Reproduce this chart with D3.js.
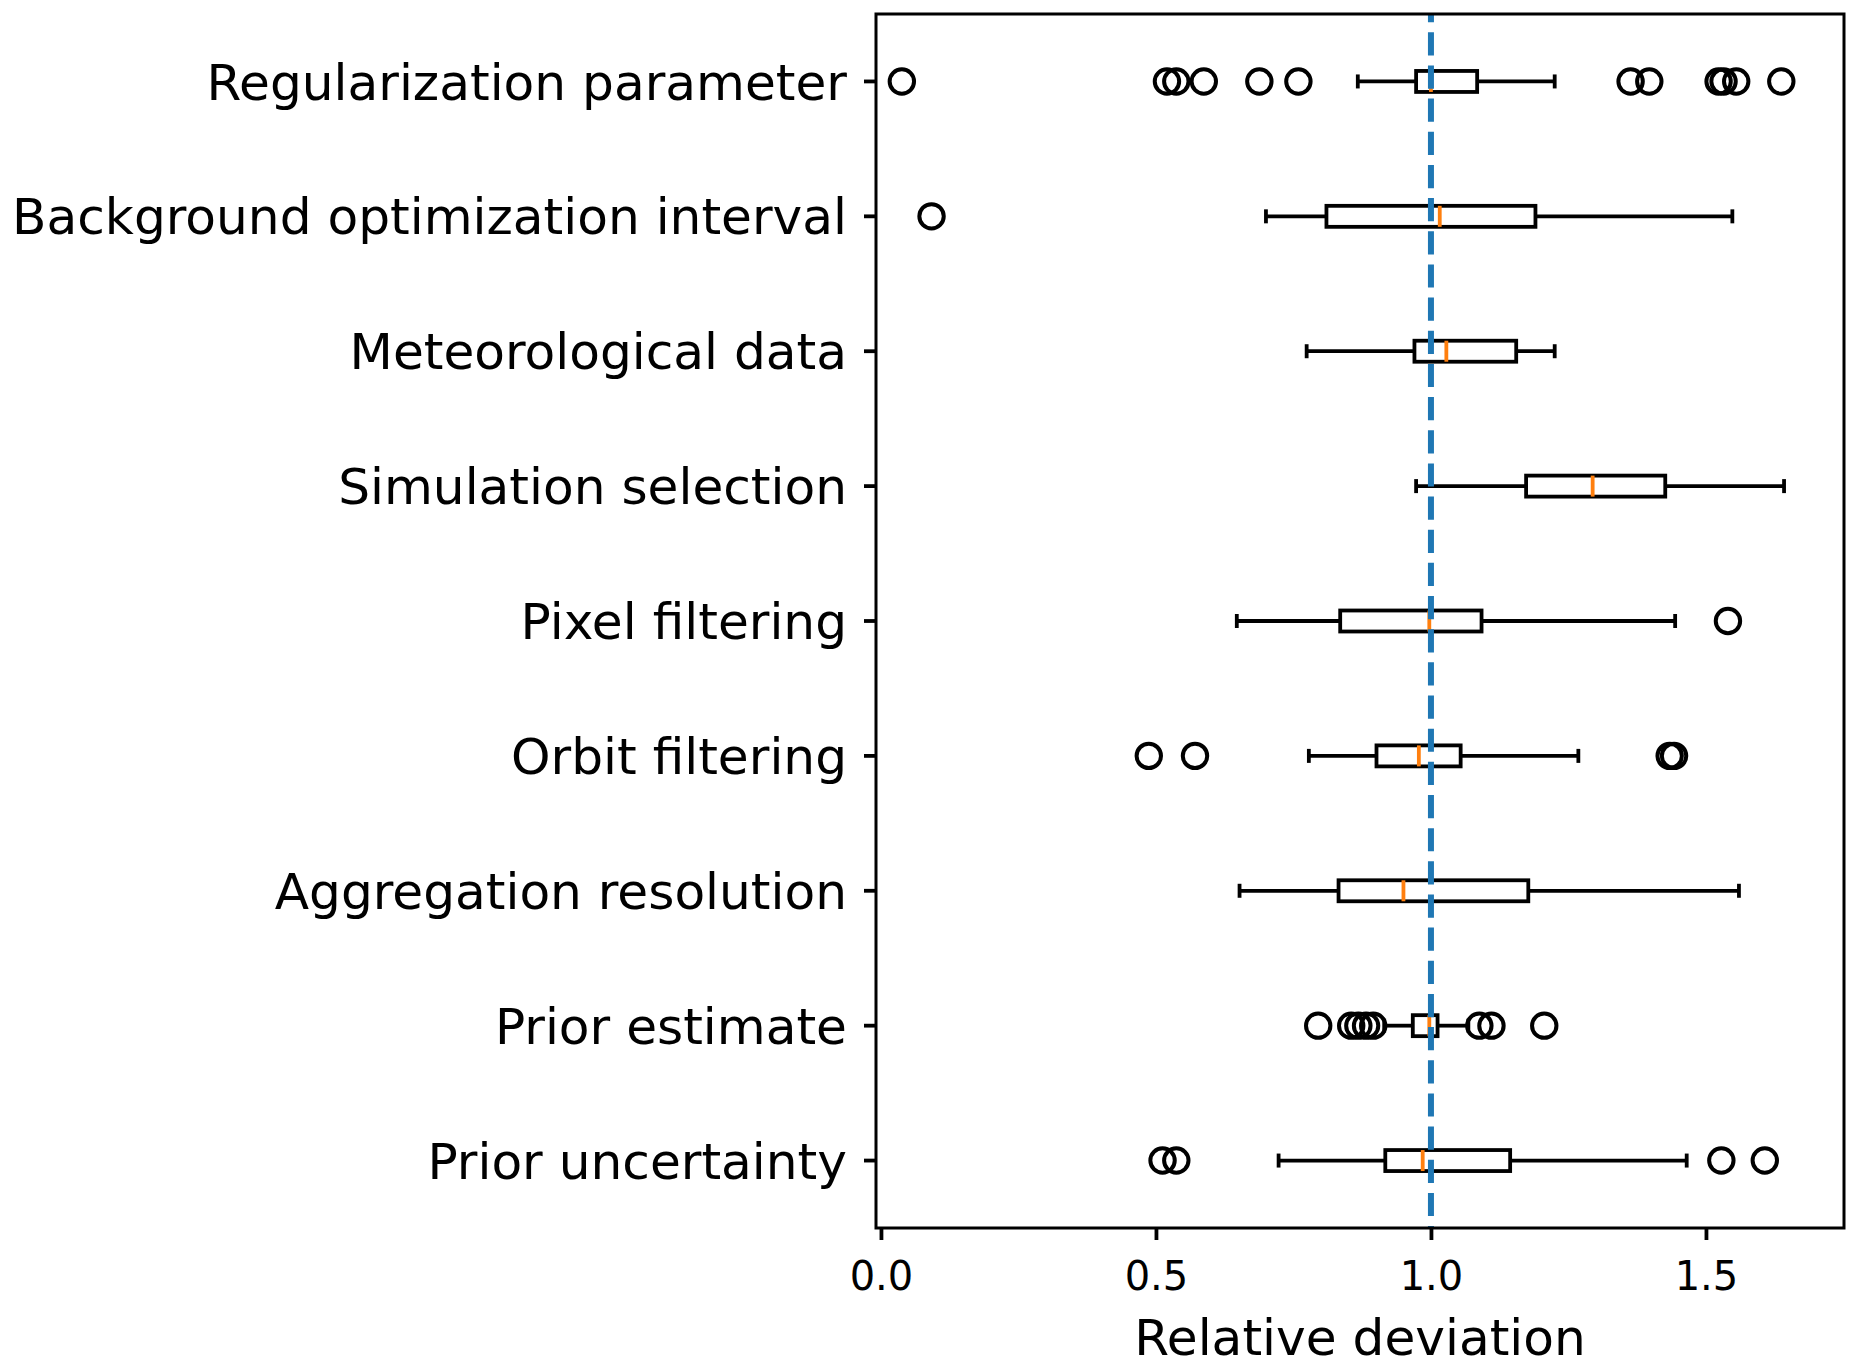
<!DOCTYPE html>
<html>
<head>
<meta charset="utf-8">
<script src="https://cdn.jsdelivr.net/npm/d3@7"></script>
<style>
  body { margin: 0; background: #fff; }
  text { font-family: "DejaVu Sans", sans-serif; }
</style>
</head>
<body>
<div id="chart"></div>
<script>
// Horizontal box plots of relative deviation per sensitivity test

const cats = ['Regularization parameter', 'Background optimization interval',
              'Meteorological data', 'Simulation selection', 'Pixel filtering',
              'Orbit filtering', 'Aggregation resolution', 'Prior estimate',
              'Prior uncertainty']

// box stats, one entry per category (same order)
const whiskLo = [0.867, 0.700, 0.774, 0.973, 0.647, 0.778, 0.652, 0.915, 0.723]
const q1      = [0.973, 0.810, 0.970, 1.173, 0.835, 0.901, 0.832, 0.967, 0.917]
const med     = [1.000, 1.016, 1.028, 1.294, 0.997, 0.978, 0.950, 0.997, 0.985]
const q3      = [1.084, 1.190, 1.155, 1.426, 1.092, 1.054, 1.177, 1.012, 1.144]
const whiskHi = [1.225, 1.548, 1.225, 1.642, 1.444, 1.268, 1.560, 1.068, 1.465]
const fliers  = [
  [0.038, 0.520, 0.537, 0.587, 0.688, 0.759, 1.363, 1.397, 1.523, 1.532, 1.555, 1.637],
  [0.092],
  [],
  [],
  [1.540],
  [0.487, 0.571, 1.434, 1.442],
  [],
  [0.795, 0.855, 0.868, 0.882, 0.895, 1.088, 1.110, 1.206],
  [0.512, 0.537, 1.528, 1.607]
]
const xTicks = [0, 0.5, 1.0, 1.5]
const refValue = 1.0

const WIDTH = 1865, HEIGHT = 1368
const L = 876, R = 1844, T = 14, B = 1228 // plot area edges
const BH = 10.5  // half box height
const CH = 7     // half cap length
const LW = 3.8   // line width

const x = d3.scaleLinear([-0.009, 1.751], [L, R])
const y = d3.scaleBand(cats, [T, B])
const yc = c => y(c) + y.bandwidth()/2

const svg = d3.select('#chart').append('svg')
  .attr('width', WIDTH).attr('height', HEIGHT)
  .style('background', '#fff')

// axes
const xAxis = svg.append('g').attr('transform', `translate(0,${B})`)
  .call(d3.axisBottom(x).tickValues(xTicks).tickFormat(d3.format('.1f'))
          .tickSize(12).tickSizeOuter(0).tickPadding(22))
xAxis.select('.domain').remove()
xAxis.selectAll('line').attr('stroke-width', LW)
xAxis.selectAll('text').attr('font-size', 40).attr('fill', '#000')

const yAxis = svg.append('g').attr('transform', `translate(${L},0)`)
  .call(d3.axisLeft(y).tickSize(12).tickSizeOuter(0).tickPadding(17))
yAxis.select('.domain').remove()
yAxis.selectAll('line').attr('stroke-width', LW)
yAxis.selectAll('text').attr('font-size', 50.2).attr('fill', '#000')
  .attr('dy', '0.36em')

svg.append('text').attr('x', (L+R)/2).attr('y', 1355)
  .attr('text-anchor', 'middle').attr('font-size', 50.2)
  .text('Relative deviation')

// boxes
const rows = cats.map((c, i) => ({ c, lo: whiskLo[i], q1: q1[i], med: med[i],
                                   q3: q3[i], hi: whiskHi[i], fl: fliers[i] }))

const g = svg.append('g').attr('stroke', '#000').attr('stroke-width', LW)
  .attr('fill', 'none')

const row = g.selectAll('g.row').data(rows).join('g').attr('class', 'row')

row.append('line') // lower whisker
  .attr('x1', d => x(d.lo)).attr('x2', d => x(d.q1))
  .attr('y1', d => yc(d.c)).attr('y2', d => yc(d.c))
row.append('line') // upper whisker
  .attr('x1', d => x(d.q3)).attr('x2', d => x(d.hi))
  .attr('y1', d => yc(d.c)).attr('y2', d => yc(d.c))
row.append('line') // caps
  .attr('x1', d => x(d.lo)).attr('x2', d => x(d.lo))
  .attr('y1', d => yc(d.c) - CH).attr('y2', d => yc(d.c) + CH)
row.append('line')
  .attr('x1', d => x(d.hi)).attr('x2', d => x(d.hi))
  .attr('y1', d => yc(d.c) - CH).attr('y2', d => yc(d.c) + CH)
row.append('rect')
  .attr('x', d => x(d.q1)).attr('width', d => x(d.q3) - x(d.q1))
  .attr('y', d => yc(d.c) - BH).attr('height', 2*BH)
  .attr('stroke-linejoin', 'miter')
row.append('line') // median
  .attr('x1', d => x(d.med)).attr('x2', d => x(d.med))
  .attr('y1', d => yc(d.c) - BH).attr('y2', d => yc(d.c) + BH)
  .attr('stroke', '#ff7f0e')

row.selectAll('circle').data(d => d.fl.map(v => ({ v, c: d.c }))).join('circle')
  .attr('cx', d => x(d.v)).attr('cy', d => yc(d.c)).attr('r', 12.2)
  .attr('stroke-width', 4)

// reference line at 1.0
svg.append('line')
  .attr('x1', x(refValue)).attr('x2', x(refValue)).attr('y1', T).attr('y2', B)
  .attr('stroke', '#1f77b4').attr('stroke-width', 6)
  .attr('stroke-dasharray', '23.2,9.96').attr('stroke-dashoffset', 14.86)

// frame
svg.append('rect').attr('x', L).attr('y', T).attr('width', R - L).attr('height', B - T)
  .attr('fill', 'none').attr('stroke', '#000').attr('stroke-width', 3)
</script>
</body>
</html>
